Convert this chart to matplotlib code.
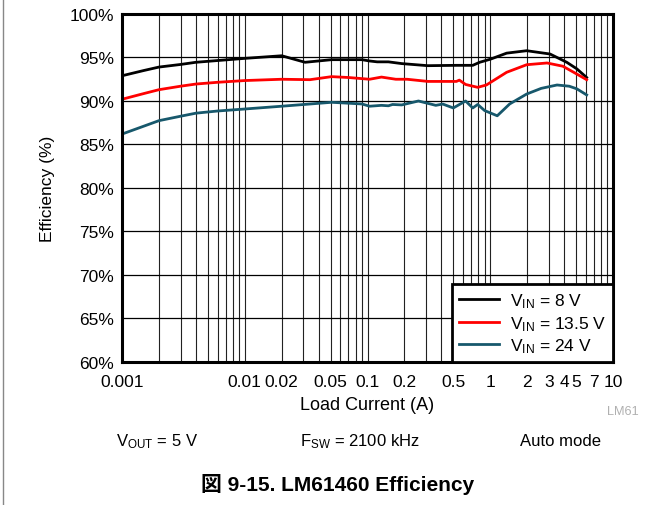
import matplotlib
matplotlib.use('Agg')
import matplotlib.pyplot as plt
from matplotlib.ticker import FixedLocator, FixedFormatter, MultipleLocator, FuncFormatter
from matplotlib.lines import Line2D

plt.rcParams['font.family'] = ['Liberation Sans', 'Noto Sans CJK JP']
plt.rcParams['mathtext.fontset'] = 'custom'
plt.rcParams['mathtext.rm'] = 'Liberation Sans'

# Efficiency curves (load current in A, efficiency in %)
i_8v = [0.001, 0.0015, 0.002, 0.003, 0.004, 0.006, 0.01, 0.02, 0.031, 0.051, 0.09, 0.104,
        0.12, 0.148, 0.19, 0.31, 0.53, 0.72, 0.82, 1.0, 1.36, 1.98, 3.07, 4.2, 5.07, 6.1]
eff_8v = [92.9, 93.5, 93.9, 94.2, 94.45, 94.65, 94.9, 95.2, 94.45, 94.75, 94.75, 94.6,
          94.5, 94.5, 94.3, 94.06, 94.1, 94.1, 94.45, 94.8, 95.5, 95.78, 95.4, 94.45, 93.7, 92.7]

i_13v5 = [0.001, 0.0015, 0.002, 0.003, 0.004, 0.006, 0.01, 0.02, 0.034, 0.051, 0.07, 0.104,
          0.13, 0.17, 0.21, 0.31, 0.53, 0.56, 0.63, 0.79, 0.93, 1.36, 1.98, 2.9, 3.9, 5.07, 6.1]
eff_13v5 = [90.2, 90.85, 91.3, 91.7, 91.95, 92.15, 92.35, 92.5, 92.45, 92.8, 92.7, 92.5,
            92.75, 92.5, 92.5, 92.25, 92.25, 92.4, 91.9, 91.57, 91.84, 93.3, 94.17, 94.37, 94.0, 93.1, 92.45]

i_24v = [0.001, 0.0015, 0.002, 0.003, 0.004, 0.006, 0.01, 0.02, 0.051, 0.09, 0.104, 0.13,
         0.148, 0.16, 0.19, 0.26, 0.36, 0.41, 0.5, 0.63, 0.72, 0.79, 0.9, 1.14, 1.44, 1.98,
         2.6, 3.5, 4.4, 5.07, 6.1]
eff_24v = [86.2, 87.1, 87.74, 88.25, 88.6, 88.85, 89.08, 89.4, 89.85, 89.66, 89.4, 89.5,
           89.45, 89.6, 89.55, 90.0, 89.5, 89.65, 89.2, 90.0, 89.2, 89.6, 88.9, 88.3, 89.66, 90.8,
           91.45, 91.84, 91.7, 91.4, 90.7]

x_major = [0.001, 0.01, 0.02, 0.05, 0.1, 0.2, 0.5, 1, 2, 3, 4, 5, 7, 10]
x_labels = ['0.001', '0.01', '0.02', '0.05', '0.1', '0.2', '0.5', '1', '2', '3', '4', '5', '7', '10']
x_minor = [m * 10.0 ** d for d in range(-3, 1) for m in range(1, 10)]

fig = plt.figure(figsize=(6.62, 5.06), dpi=100)
ax = fig.add_axes([122 / 662, 1 - 363 / 506, 491 / 662, 348 / 506])

ax.plot(i_8v, eff_8v, color='black', lw=2.0, label=r'$\mathregular{V_{IN}}$ = 8 V')
ax.plot(i_13v5, eff_13v5, color='#ff0000', lw=2.0, label=r'$\mathregular{V_{IN}}$ = 13.5 V')
ax.plot(i_24v, eff_24v, color='#17586c', lw=2.0, label=r'$\mathregular{V_{IN}}$ = 24 V')

ax.set_xscale('log')
ax.set_xlim(0.001, 10)
ax.set_ylim(60, 100)
ax.xaxis.set_major_locator(FixedLocator(x_major))
ax.xaxis.set_major_formatter(FixedFormatter(x_labels))
ax.xaxis.set_minor_locator(FixedLocator(x_minor))
ax.xaxis.set_minor_formatter(FixedFormatter([]))
ax.yaxis.set_major_locator(MultipleLocator(5))
ax.yaxis.set_major_formatter(FuncFormatter(lambda v, p: '%d%%' % v))

ax.grid(which='both', axis='x', color='#222222', lw=0.8)
ax.grid(which='major', axis='y', color='black', lw=0.9)
ax.tick_params(which='both', length=0, labelsize=12.5)
ax.tick_params(axis='x', pad=9)
ax.tick_params(axis='y', pad=6)
for s in ax.spines.values():
    s.set_linewidth(2.2)

ax.set_xlabel('Load Current (A)', fontsize=13, labelpad=5)
ax.set_ylabel('Efficiency (%)', fontsize=12.5, labelpad=10)

leg = ax.legend(loc='lower right', borderaxespad=0, fancybox=False, framealpha=1,
                edgecolor='black', fontsize=12.5, handlelength=2.3, handletextpad=0.6,
                labelspacing=0.22, borderpad=0.4)
leg.get_frame().set_linewidth(2.0)

fig.text(623 / 662, 1 - 412 / 506, 'LM61', color='#b0b0b0', fontsize=9.2, ha='center', va='center')
fig.text(157 / 662, 1 - 442 / 506, r'$\mathregular{V_{OUT}}$ = 5 V', fontsize=12, ha='center', va='center')
fig.text(360 / 662, 1 - 442 / 506, r'$\mathregular{F_{SW}}$ = 2100 kHz', fontsize=12, ha='center', va='center')
fig.text(561 / 662, 1 - 442 / 506, 'Auto mode', fontsize=12, ha='center', va='center')
fig.text(338 / 662, 1 - 485 / 506, '図 9-15. LM61460 Efficiency', fontsize=15, fontweight='bold',
         ha='center', va='center')

fig.add_artist(Line2D([3 / 662, 3 / 662], [0, 1], transform=fig.transFigure, color='#888888', lw=1))

fig.savefig('out.png', dpi=100)
